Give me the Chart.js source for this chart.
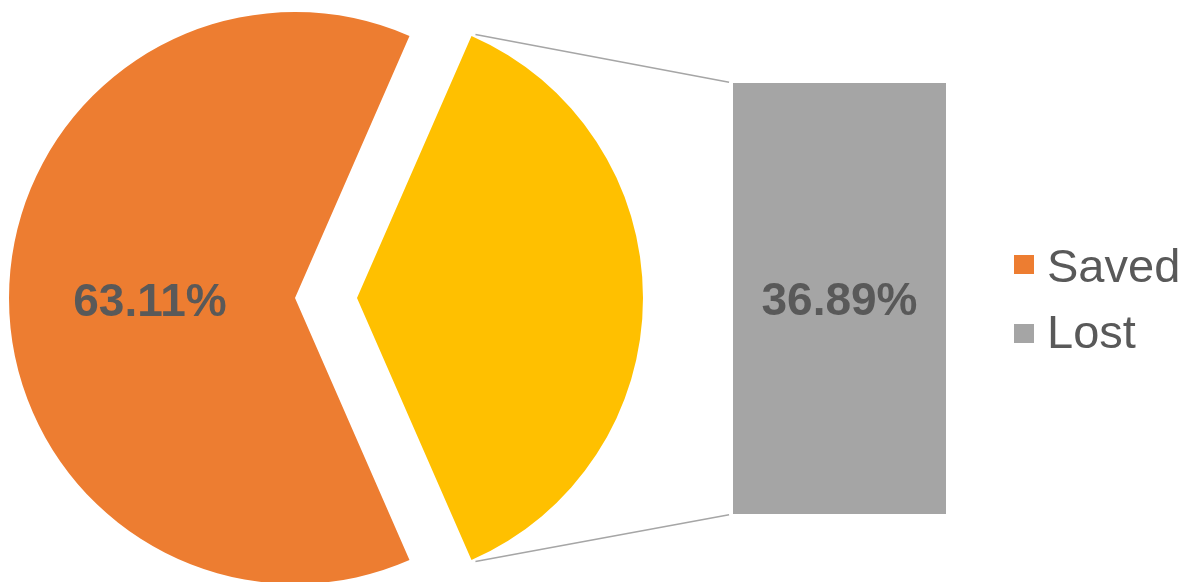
<!DOCTYPE html>
<html><head><meta charset="utf-8">
<script src="https://cdn.jsdelivr.net/npm/chart.js@4/dist/chart.umd.min.js"></script>
<style>
html,body{margin:0;padding:0;background:#fff;overflow:hidden}
#wrap{position:relative;width:1189px;height:582px}
canvas{position:absolute;left:0;top:0}
.leg{position:absolute;font-family:"Liberation Sans",Arial,sans-serif;font-size:47px;line-height:47px;color:#595959;white-space:nowrap}
.sw{position:absolute;width:20px;height:19px}
</style></head><body>
<div id="wrap">
<canvas id="pieA" width="1189" height="582"></canvas>
<canvas id="pieB" width="1189" height="582"></canvas>
<canvas id="bar" width="1189" height="582"></canvas>
<div id="legend"></div>
</div>
<script>
// ---- data ----
const categories = ['Saved', 'Lost'];
const values = [63.11, 36.89];
const pieColors = ['#ED7D31', '#FFC000'];
const barColor = '#A5A5A5';
const legendColors = ['#ED7D31', '#A5A5A5'];

const total = values.reduce((a, b) => a + b, 0);
const rotation = 90 + (values[1] / total) * 180; // centre the split-off slice on the right
const fmt = v => v.toFixed(2) + '%';
const labelFont = 'bold 46px "Liberation Sans", Arial, sans-serif';
const textColor = '#595959';

const common = {
  responsive: false,
  animation: false,
  devicePixelRatio: 1,
  plugins: { legend: { display: false }, tooltip: { enabled: false } }
};

// main pie (orange part)
const pieA = new Chart(document.getElementById('pieA'), {
  type: 'pie',
  data: { labels: categories, datasets: [{ data: values, backgroundColor: [pieColors[0], 'rgba(0,0,0,0)'], borderWidth: 0, clip: false }] },
  options: Object.assign({}, common, {
    radius: 286,
    rotation: rotation,
    layout: { padding: { left: 0, right: 599, top: 14, bottom: 0 } }
  }),
  plugins: [{
    id: 'pieLabel',
    afterDatasetsDraw(chart) {
      const arc = chart.getDatasetMeta(0).data[0];
      const p = arc.tooltipPosition();
      const ctx = chart.ctx;
      ctx.save();
      ctx.font = labelFont;
      ctx.fillStyle = textColor;
      ctx.textAlign = 'center';
      ctx.textBaseline = 'middle';
      ctx.fillText(fmt(values[0]), p.x - 2, p.y + 5);
      ctx.restore();
    }
  }]
});

// exploded slice (yellow part)
const pieB = new Chart(document.getElementById('pieB'), {
  type: 'pie',
  data: { labels: categories, datasets: [{ data: values, backgroundColor: ['rgba(0,0,0,0)', pieColors[1]], borderWidth: 0, clip: false }] },
  options: Object.assign({}, common, {
    radius: 286,
    rotation: rotation,
    layout: { padding: { left: 62, right: 537, top: 14, bottom: 0 } }
  })
});

// secondary bar
const barChart = new Chart(document.getElementById('bar'), {
  type: 'bar',
  data: { labels: [categories[1]], datasets: [{ data: [values[1]], backgroundColor: barColor, borderWidth: 0, barPercentage: 1, categoryPercentage: 1 }] },
  options: Object.assign({}, common, {
    layout: { padding: { left: 733, right: 243, top: 83, bottom: 68 } },
    scales: {
      x: { display: false },
      y: { display: false, min: 0, max: values[1] }
    }
  }),
  plugins: [{
    id: 'connectors',
    afterDatasetsDraw(chart) {
      const ctx = chart.ctx;
      const bar = chart.getDatasetMeta(0).data[0];
      const arc = pieB.getDatasetMeta(0).data[1];
      const r = arc.outerRadius;
      const p1 = { x: arc.x + Math.cos(arc.startAngle) * r, y: arc.y + Math.sin(arc.startAngle) * r };
      const p2 = { x: arc.x + Math.cos(arc.endAngle) * r, y: arc.y + Math.sin(arc.endAngle) * r };
      const left = bar.x - bar.width / 2;
      const q1 = { x: left, y: bar.y };
      const q2 = { x: left, y: bar.base };
      ctx.save();
      ctx.strokeStyle = '#A6A6A6';
      ctx.lineWidth = 1.5;
      const seg = (a, b) => {
        const dx = b.x - a.x, dy = b.y - a.y, L = Math.hypot(dx, dy);
        const ux = dx / L, uy = dy / L;
        ctx.beginPath();
        ctx.moveTo(a.x + ux * 3 + 1, a.y + uy * 3 - (a.y < b.y ? 2 : -2));
        ctx.lineTo(b.x - ux * 4, b.y - uy * 4);
        ctx.stroke();
      };
      seg(p1, q1);
      seg(p2, q2);
      // bar label
      ctx.font = labelFont;
      ctx.fillStyle = textColor;
      ctx.textAlign = 'center';
      ctx.textBaseline = 'middle';
      ctx.fillText(fmt(values[1]), bar.x, (bar.y + bar.base) / 2 + 4);
      ctx.restore();
    }
  }]
});

// legend
const legend = document.getElementById('legend');
const legendTops = [242, 308];
categories.forEach((name, i) => {
  const sw = document.createElement('div');
  sw.className = 'sw';
  sw.style.left = '1014px';
  sw.style.top = (i === 0 ? 255 : 324) + 'px';
  sw.style.background = legendColors[i];
  legend.appendChild(sw);
  const t = document.createElement('div');
  t.className = 'leg';
  t.style.left = '1047px';
  t.style.top = legendTops[i] + 'px';
  t.textContent = name;
  legend.appendChild(t);
});
</script>
</body></html>
